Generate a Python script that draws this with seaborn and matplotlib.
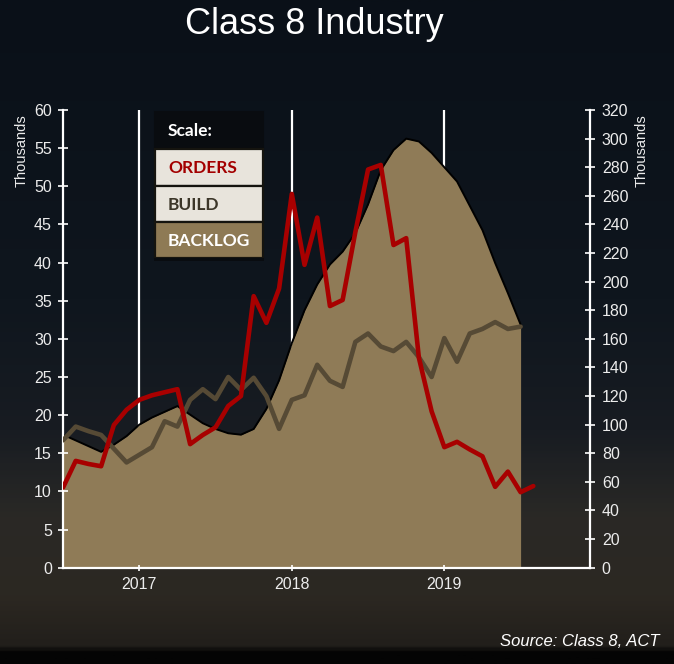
import numpy as np
import pandas as pd
import matplotlib
matplotlib.use("Agg")
import matplotlib.pyplot as plt
import seaborn as sns
from matplotlib.patches import Rectangle
from matplotlib.colors import LinearSegmentedColormap

# ---------------- data ----------------
title = "Class 8 Industry"
source = "Source: Class 8, ACT"
axis_label = "Thousands"
legend_title = "Scale:"
series_names = ["ORDERS", "BUILD", "BACKLOG"]
start_year = 2016.5          # July 2016, monthly data
months_per_year = 12
year_ticks = [2017, 2018, 2019]
year_labels = ["2017", "2018", "2019"]
left_ticks = list(range(0, 61, 5))
right_ticks = list(range(0, 321, 20))

orders = [10.5, 14.0, 13.6, 13.3, 18.7, 20.7, 22.0, 22.6, 23.0, 23.4,
          16.2, 17.4, 18.4, 21.2, 22.5, 35.6, 32.1, 36.6, 49.0, 39.7,
          45.9, 34.3, 35.1, 44.0, 52.2, 52.8, 42.3, 43.2, 27.5, 20.5,
          15.8, 16.5, 15.5, 14.6, 10.6, 12.6, 9.9, 10.7]
build = [16.7, 18.5, 17.9, 17.4, 15.6, 13.8, 14.8, 15.8, 19.2, 18.5,
         22.0, 23.4, 22.1, 25.0, 23.3, 24.9, 22.5, 18.2, 22.0, 22.6,
         26.6, 24.5, 23.7, 29.6, 30.7, 29.0, 28.4, 29.6, 27.6, 25.0,
         30.1, 27.0, 30.7, 31.3, 32.2, 31.3, 31.6]
backlog = [93, 89, 85, 81, 86, 92, 100, 105, 109, 113,
           107, 101, 97, 94, 93, 97, 111, 131, 157, 180,
           198, 212, 221, 234, 254, 278, 292, 300, 298, 290,
           280, 270, 253, 236, 213, 192, 170]

df_o = pd.DataFrame({"x": start_year + np.arange(len(orders)) / months_per_year,
                     "orders": orders})
df_b = pd.DataFrame({"x": start_year + np.arange(len(build)) / months_per_year,
                     "build": build, "backlog": backlog})

# ---------------- style ----------------
W, H = 674, 664
sns.set_theme(style="white")
plt.rcParams["font.family"] = ["Liberation Sans", "DejaVu Sans"]

C_ORDERS = "#a80000"
C_BUILD = "#564a35"
C_BACKLOG = "#8f7b57"
C_TEXT = "#ececec"

fig = plt.figure(figsize=(W / 100, H / 100), dpi=100)
fig.patch.set_facecolor("#0b1119")

# background gradient (dark night sky over a dim desert road)
bg = fig.add_axes([0, 0, 1, 1], zorder=-10)
stops = [(0.0, "#0a1018"), (0.45, "#0f161e"), (0.65, "#181c22"),
         (0.78, "#2a2926"), (0.90, "#2c2822"), (0.975, "#221f1b"),
         (0.985, "#040404"), (1.0, "#040404")]
cmap = LinearSegmentedColormap.from_list("bg", stops)
grad = np.linspace(0, 1, 400).reshape(-1, 1)
bg.imshow(grad, aspect="auto", cmap=cmap, extent=[0, 1, 0, 1], origin="upper")
bg.set_axis_off()

ax1 = fig.add_axes([63 / W, 1 - 567.7 / H, (590 - 63) / W, (567.7 - 110) / H])
ax2 = ax1.twinx()
ax1.set_zorder(2)
ax2.set_zorder(1)
ax1.patch.set_visible(False)
ax2.patch.set_visible(False)

# vertical year lines behind the backlog area
for yr in year_ticks:
    ax2.axvline(yr, color="white", lw=1.6, zorder=0)

ax2.fill_between(df_b["x"], df_b["backlog"], color=C_BACKLOG, lw=0, zorder=2)
sns.lineplot(data=df_b, x="x", y="backlog", ax=ax2, color="black", lw=1.4, zorder=3)

sns.lineplot(data=df_b, x="x", y="build", ax=ax1, color=C_BUILD, lw=3.3, zorder=3)
sns.lineplot(data=df_o, x="x", y="orders", ax=ax1, color=C_ORDERS, lw=3.3, zorder=4)

ax1.set_xlim(2016.5, 2019.955)
ax1.set_ylim(0, 60)
ax2.set_ylim(0, 320)
ax1.set_xticks(year_ticks)
ax1.set_xticklabels(year_labels)
ax1.set_yticks(left_ticks)
ax2.set_yticks(right_ticks)
for a in (ax1, ax2):
    a.set_xlabel("")
    a.set_ylabel("")
    a.grid(False)

ax1.tick_params(axis="y", direction="inout", length=7, width=1.2, color="white",
                labelcolor=C_TEXT, labelsize=11.5, pad=4.5, left=True)
ax1.tick_params(axis="x", direction="inout", length=5, width=1.2, color="white",
                labelcolor=C_TEXT, labelsize=11.5, pad=4.5, bottom=True)
ax2.tick_params(axis="y", direction="inout", length=7, width=1.2, color="white",
                labelcolor=C_TEXT, labelsize=11.5, pad=5, right=True)

for name, sp in ax1.spines.items():
    sp.set_visible(name in ("left", "bottom"))
    sp.set_color("white")
    sp.set_linewidth(1.6)
for name, sp in ax2.spines.items():
    sp.set_visible(name == "right")
    sp.set_color("white")
    sp.set_linewidth(1.6)

# axis unit labels
fig.text(22 / W, 1 - 151 / H, axis_label, rotation=90, ha="center", va="center",
         color=C_TEXT, fontsize=10.5)
fig.text(642 / W, 1 - 151 / H, axis_label, rotation=90, ha="center", va="center",
         color=C_TEXT, fontsize=10.5)

# title and source
fig.text(314 / W, 1 - 34 / H, title, ha="center", va="baseline", color="white",
         fontsize=26)
fig.text(660 / W, 1 - 646 / H, source, ha="right", va="baseline", color="white",
         fontsize=12, style="italic")

# "Scale:" legend box
def px_rect(x0, y0, x1, y1, fc, ec, lw=1.5):
    fig.add_artist(Rectangle((x0 / W, 1 - y1 / H), (x1 - x0) / W, (y1 - y0) / H,
                             transform=fig.transFigure, facecolor=fc, edgecolor=ec,
                             lw=lw, zorder=20))

lx0, lx1 = 155, 263
px_rect(lx0, 112, lx1, 149, "#090c10", "#090c10")
rows = [(149, 186, "#e8e4dc", "#a30000"),
        (186, 222, "#e8e4dc", "#3c3629"),
        (222, 258, "#8e7a55", "#ffffff")]
for (y0, y1, fc, tc), name in zip(rows, series_names):
    px_rect(lx0, y0, lx1, y1, fc, "#15140f", lw=1.6)
    fig.text(168 / W, 1 - ((y0 + y1) / 2 + 1) / H, name, ha="left", va="center",
             color=tc, fontsize=12.5, fontweight="bold", family=["Lato", "DejaVu Sans"],
             zorder=21)
px_rect(lx0 - 1, 258, lx1 + 1, 261, "#090c10", "#090c10", lw=0)
fig.text(168 / W, 1 - 131 / H, legend_title, ha="left", va="center", color="white",
         fontsize=12.5, fontweight="bold", family=["Lato", "DejaVu Sans"], zorder=21)

fig.savefig("out.png", dpi=100, facecolor=fig.get_facecolor())
